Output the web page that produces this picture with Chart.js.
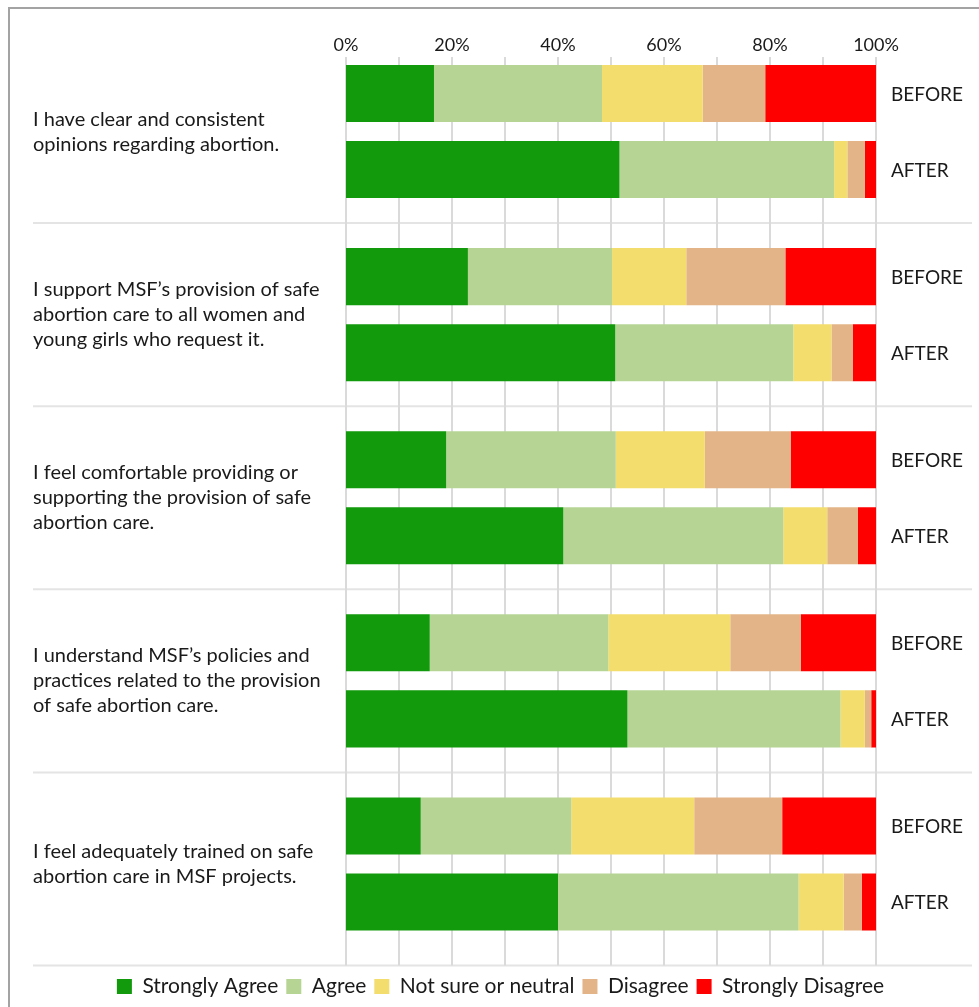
<!DOCTYPE html>
<html>
<head>
<meta charset="utf-8">
<title>Attitudes towards safe abortion care, before and after</title>
<script src="https://cdn.jsdelivr.net/npm/chart.js@4.4.1/dist/chart.umd.min.js"></script>
<style>
  html, body { margin: 0; padding: 0; background: #fff; overflow: hidden; }
  #wrap { position: relative; width: 979px; height: 1007px; }
  #frame { position: absolute; left: 8px; top: 7px; width: 1100px; height: 1100px;
           border: 2px solid #a3a3a3; box-sizing: border-box; z-index: 0; }
  #chart { position: relative; z-index: 1; }
</style>
</head>
<body>
<div id="wrap">
  <div id="frame"></div>
  <canvas id="chart"></canvas>
</div>
<script>
// Survey statements (one label per group, split in lines)
const questions = [
  ['I have clear and consistent', 'opinions regarding abortion.'],
  ['I support MSF\u2019s provision of safe', 'abortion care to all women and', 'young girls who request it.'],
  ['I feel comfortable providing or', 'supporting the provision of safe', 'abortion care.'],
  ['I understand MSF\u2019s policies and', 'practices related to the provision', 'of safe abortion care.'],
  ['I feel adequately trained on safe', 'abortion care in MSF projects.']
];

const answers = ['Strongly Agree', 'Agree', 'Not sure or neutral', 'Disagree', 'Strongly Disagree'];
const answerColors = ['#129a0c', '#b6d594', '#f3dd6c', '#e3b487', '#ff0000'];
const periods = ['BEFORE', 'AFTER'];

// % of respondents, before the training
const stronglyAgreeBefore    = [16.6, 23.0, 18.9, 15.8, 14.1];
const agreeBefore            = [31.7, 27.2, 32.0, 33.7, 28.4];
const neutralBefore          = [19.0, 14.0, 16.8, 23.0, 23.2];
const disagreeBefore         = [11.8, 18.7, 16.2, 13.3, 16.6];
const stronglyDisagreeBefore = [20.9, 17.1, 16.1, 14.2, 17.7];

// % of respondents, after the training
const stronglyAgreeAfter    = [51.6, 50.8, 41.0, 53.1, 40.0];
const agreeAfter            = [40.5, 33.6, 41.5, 40.2, 45.4];
const neutralAfter          = [2.5, 7.2, 8.3, 4.6, 8.5];
const disagreeAfter         = [3.3, 4.0, 5.8, 1.2, 3.4];
const stronglyDisagreeAfter = [2.1, 4.4, 3.4, 0.9, 2.7];

const xTicks = [0, 20, 40, 60, 80, 100];

const beforeSeries = [stronglyAgreeBefore, agreeBefore, neutralBefore, disagreeBefore, stronglyDisagreeBefore];
const afterSeries = [stronglyAgreeAfter, agreeAfter, neutralAfter, disagreeAfter, stronglyDisagreeAfter];

const FONT = 'Lato';
const TEXT = '#1a1a1a';

function makeDatasets(series, stack) {
  return series.map((values, i) => ({
    label: answers[i],
    data: values,
    stack: stack,
    backgroundColor: answerColors[i],
    borderWidth: 0,
    categoryPercentage: 0.831,
    barPercentage: 0.75
  }));
}

// grid lines, question separators and the BEFORE / AFTER tags
const decorations = {
  id: 'decorations',
  beforeDatasetsDraw(chart) {
    const { ctx, chartArea, scales: { x, y } } = chart;
    const bottomLine = chartArea.bottom + 10;
    ctx.save();
    ctx.lineWidth = 2;

    ctx.strokeStyle = '#e4e4e4';
    const left = y.left, right = chart.width - 7;
    for (let i = 1; i <= questions.length; i++) {
      const yy = i < questions.length
        ? (y.getPixelForValue(i - 1) + y.getPixelForValue(i)) / 2
        : bottomLine;
      ctx.beginPath();
      ctx.moveTo(left, yy);
      ctx.lineTo(right, yy);
      ctx.stroke();
    }

    ctx.strokeStyle = '#dadada';
    for (let v = 0; v <= 100; v += 10) {
      const xx = x.getPixelForValue(v);
      ctx.beginPath();
      ctx.moveTo(xx, chartArea.top + 17);
      ctx.lineTo(xx, bottomLine);
      ctx.stroke();
    }
    ctx.restore();
  },
  afterDatasetsDraw(chart) {
    const { ctx } = chart;
    ctx.save();
    ctx.font = '19px ' + FONT;
    ctx.fillStyle = TEXT;
    ctx.textBaseline = 'middle';
    ctx.textAlign = 'left';
    periods.forEach((p, k) => {
      // last dataset of each stack sits at the right end of the bar
      const meta = chart.getDatasetMeta(k * answers.length + answers.length - 1);
      meta.data.forEach(bar => ctx.fillText(p, bar.x + 15, bar.y + 1));
    });
    ctx.restore();
  }
};

const ctx = document.getElementById('chart').getContext('2d');
new Chart(ctx, {
  type: 'bar',
  data: {
    labels: questions,
    datasets: [...makeDatasets(beforeSeries, 'before'), ...makeDatasets(afterSeries, 'after')]
  },
  options: {
    indexAxis: 'y',
    responsive: true,
    maintainAspectRatio: false,
    animation: false,
    layout: {
      padding: { left: 33, right: 11, top: 40, bottom: 0 }
    },
    scales: {
      x: {
        position: 'top',
        stacked: true,
        min: 0,
        max: 100,
        afterBuildTicks: scale => { scale.ticks = xTicks.map(v => ({ value: v })); },
        afterFit: scale => { scale.height = 0; },
        grid: { display: false, drawTicks: false },
        border: { display: false },
        ticks: {
          mirror: true,
          padding: -4,
          maxRotation: 0,
          color: TEXT,
          font: { family: FONT, size: 18, lineHeight: 1 },
          callback: v => v + '%'
        }
      },
      y: {
        stacked: true,
        afterFit: scale => { scale.width = 313; },
        grid: { display: false, drawTicks: false },
        border: { display: false },
        ticks: {
          crossAlign: 'far',
          padding: 0,
          color: TEXT,
          font: { family: FONT, size: 20, lineHeight: 25 / 20 }
        }
      },
      // empty right-hand axis: room for the BEFORE / AFTER tags
      yRight: {
        position: 'right',
        afterFit: scale => { scale.width = 92; },
        grid: { display: false, drawTicks: false },
        border: { display: false },
        ticks: { display: false }
      }
    },
    plugins: {
      legend: {
        position: 'bottom',
        title: { display: true, text: '', font: { size: 1, lineHeight: 1 }, padding: { top: 11.5, bottom: 0 } },
        labels: {
          boxWidth: 15,
          boxHeight: 15,
          padding: 8,
          color: TEXT,
          font: { family: FONT, size: 21 },
          filter: item => item.datasetIndex < answers.length
        }
      },
      tooltip: { enabled: false }
    }
  },
  plugins: [decorations]
});
</script>
</body>
</html>
